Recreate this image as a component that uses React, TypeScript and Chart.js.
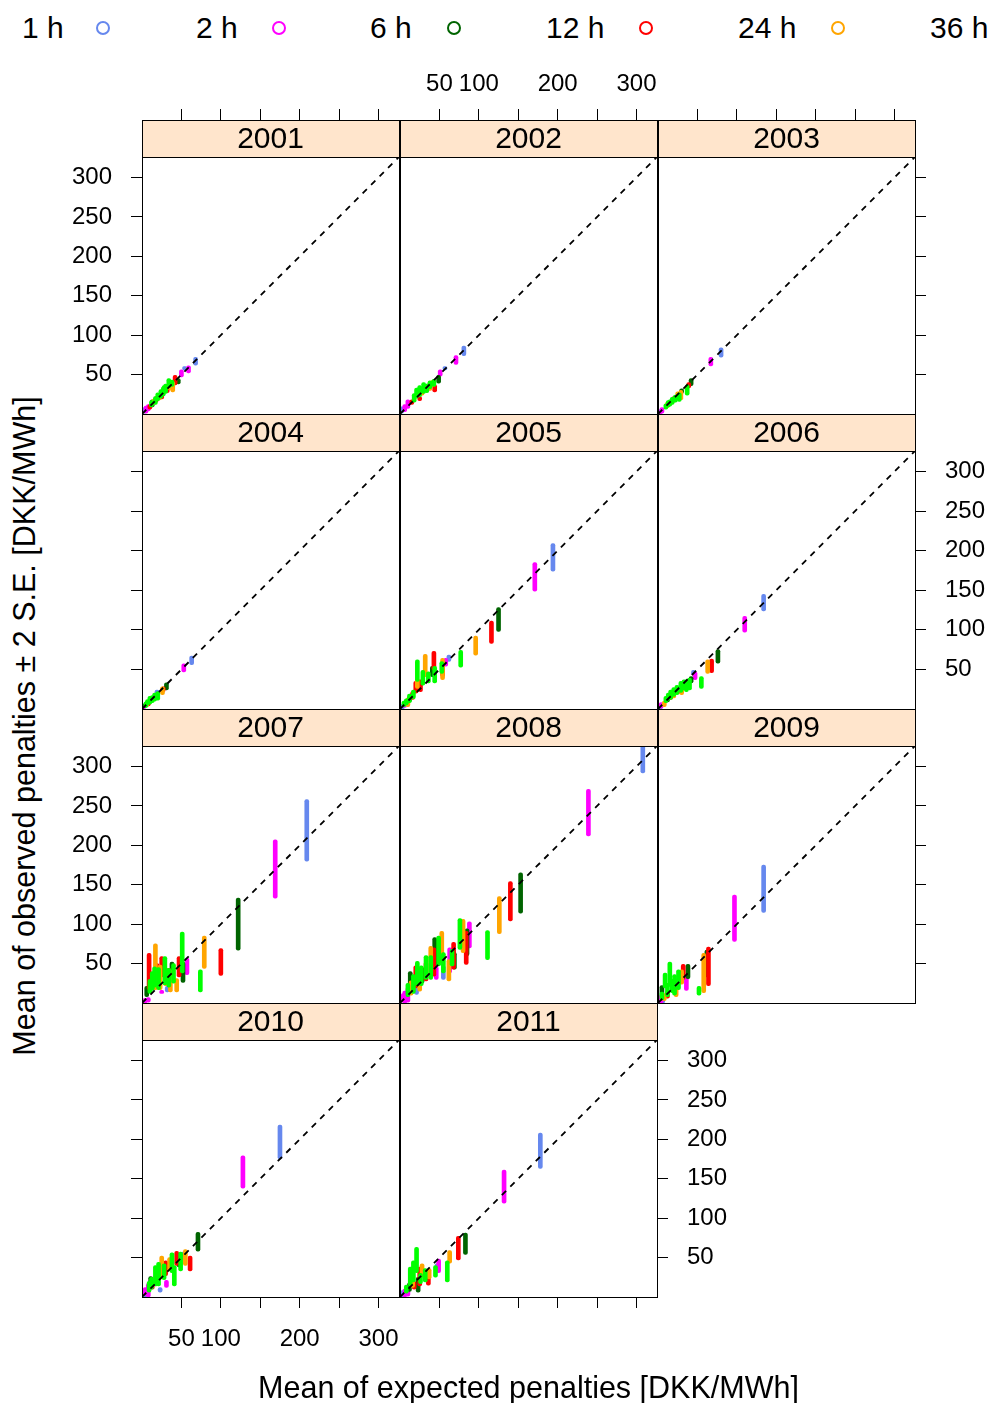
import React, { useEffect, useRef } from 'react';
import { Chart, registerables } from 'chart.js';

Chart.register(...registerables);

type Seg = [number, number, number]; // [expected, lower, upper]

const FONT = '"Liberation Sans", Arial, Helvetica, sans-serif';

const years = ['2001', '2002', '2003', '2004', '2005', '2006', '2007', '2008', '2009', '2010', '2011'];
const horizons = ['1 h', '2 h', '6 h', '12 h', '24 h', '36 h'];
const colors = ['#6688EE', '#FF00FF', '#006400', '#FF0000', '#FFA500', '#00FF00'];
const tickValues = [50, 100, 150, 200, 250, 300];
const xTickLabels = ['50', '100', '', '200', '', '300'];
const yTickLabels = ['50', '100', '150', '200', '250', '300'];
const axisMin = 0;
const axisMax = 326;
const xTitle = 'Mean of expected penalties [DKK/MWh]';
const yTitle = 'Mean of observed penalties \u00B1 2 S.E. [DKK/MWh]';

// one list per panel (2001 ... 2011), each entry [expected, lower, upper]
const h1: Seg[][] = [
  [[68, 62, 72], [54, 56, 60], [3, 1, 8]],
  [[81, 74, 86], [57, 56, 60], [2, 1, 9]],
  [[80, 72, 84], [4, 1, 6]],
  [[63, 56, 67], [19, 18, 24]],
  [[194, 174, 209], [62, 60, 68], [3, 0, 6]],
  [[134, 124, 145], [45, 43, 49], [3, 0, 5]],
  [[209, 180, 258], [32, 14, 21]],
  [[308, 292, 340], [55, 30, 47], [21, 11, 22], [6, 0, 8]],
  [[134, 115, 175], [6, 0, 6]],
  [[175, 175, 218], [52, 48, 57], [23, 6, 12], [5, 0, 8]],
  [[178, 163, 208], [47, 38, 42], [3, 0, 8]],
];
const h2: Seg[][] = [
  [[59, 52, 61], [50, 47, 56], [5, 1, 10], [8, 4, 12], [30, 27, 33]],
  [[71, 63, 74], [51, 48, 56], [10, 7, 18], [6, 3, 12]],
  [[67, 61, 72], [5, 1, 8], [2, 0, 4]],
  [[53, 47, 57], [2, 0, 5]],
  [[171, 149, 185], [58, 54, 64], [6, 2, 9]],
  [[110, 97, 117], [47, 37, 47], [4, 1, 8]],
  [[169, 133, 207], [57, 36, 57], [25, 12, 16], [4, 0, 6], [8, 1, 7]],
  [[239, 212, 271], [88, 70, 103], [63, 38, 70], [46, 30, 46], [10, 1, 20], [6, 0, 15], [4, 1, 12]],
  [[97, 78, 137], [36, 16, 33], [4, 0, 10], [2, 0, 8]],
  [[128, 138, 179], [31, 12, 21], [4, 2, 12], [8, 0, 17]],
  [[132, 119, 161], [49, 31, 48], [6, 0, 10], [10, 1, 8]],
];
const h6: Seg[][] = [
  [[46, 38, 45], [13, 9, 18], [25, 20, 27], [36, 32, 40]],
  [[49, 39, 49], [35, 30, 38]],
  [[42, 36, 45], [30, 26, 32]],
  [[31, 24, 33], [4, 2, 7]],
  [[125, 98, 128], [41, 41, 54], [12, 9, 16]],
  [[76, 58, 75], [42, 33, 41], [12, 9, 15]],
  [[122, 67, 133], [52, 26, 52], [38, 32, 52], [6, 8, 21]],
  [[153, 114, 165], [85, 60, 94], [69, 43, 64], [44, 47, 83], [13, 11, 40], [28, 25, 45]],
  [[62, 33, 67], [38, 31, 49], [5, 8, 22]],
  [[71, 58, 82], [47, 38, 53], [11, 12, 26]],
  [[83, 54, 81], [23, 6, 25], [12, 7, 18]],
];
const h12: Seg[][] = [
  [[42, 37, 49], [25, 19, 29], [32, 27, 35], [18, 15, 22], [10, 6, 12]],
  [[44, 28, 37], [25, 17, 22], [33, 30, 36], [15, 12, 18]],
  [[39, 33, 40], [20, 15, 22]],
  [[27, 22, 28], [8, 4, 10]],
  [[116, 83, 111], [54, 41, 58], [43, 49, 73], [26, 22, 37], [20, 20, 35], [16, 12, 22]],
  [[68, 46, 63], [25, 19, 27], [16, 12, 19]],
  [[100, 35, 69], [47, 33, 59], [34, 27, 44], [25, 33, 59], [19, 23, 50], [9, 17, 63]],
  [[140, 104, 154], [84, 49, 91], [68, 43, 77], [43, 34, 70], [20, 19, 47], [33, 28, 52]],
  [[64, 22, 71], [32, 30, 49], [20, 14, 28], [12, 6, 15]],
  [[61, 33, 52], [44, 40, 58], [30, 27, 46], [13, 10, 20]],
  [[74, 47, 77], [36, 15, 27], [25, 14, 38], [18, 10, 20]],
];
const h24: Seg[][] = [
  [[39, 28, 41], [35, 31, 40], [22, 18, 25], [15, 12, 19]],
  [[42, 35, 43], [38, 30, 40], [28, 24, 30]],
  [[29, 18, 30], [25, 20, 28], [12, 8, 15]],
  [[26, 18, 28], [6, 3, 9]],
  [[96, 68, 92], [54, 37, 64], [32, 41, 69], [22, 26, 38], [10, 3, 14]],
  [[63, 45, 62], [30, 18, 28], [20, 14, 22], [8, 3, 10]],
  [[79, 44, 85], [44, 14, 31], [36, 14, 42], [23, 17, 48], [17, 17, 75], [30, 22, 40]],
  [[126, 88, 135], [80, 64, 106], [62, 28, 55], [53, 51, 91], [39, 34, 72], [25, 15, 35], [14, 10, 28]],
  [[58, 13, 63], [30, 24, 42], [23, 8, 30], [8, 3, 12]],
  [[55, 40, 60], [35, 33, 50], [25, 23, 52], [18, 14, 30]],
  [[63, 43, 59], [37, 23, 36], [28, 25, 42], [16, 12, 28]],
];
const h36: Seg[][] = [
  [[34, 33, 45], [30, 26, 38], [27, 23, 34], [24, 20, 31], [20, 17, 27], [17, 12, 22], [12, 9, 17], [38, 35, 43], [28, 28, 36]],
  [[21, 20, 33], [25, 22, 36], [30, 26, 40], [34, 27, 38], [38, 32, 42], [18, 15, 26], [43, 35, 44], [28, 30, 34]],
  [[37, 24, 37], [27, 16, 27], [22, 15, 24], [18, 12, 21], [15, 10, 18], [13, 9, 17], [10, 6, 13]],
  [[20, 11, 22], [16, 10, 20], [13, 8, 17], [10, 6, 16], [7, 5, 12], [17, 13, 19], [5, 2, 9]],
  [[77, 53, 74], [53, 45, 60], [44, 33, 54], [22, 35, 62], [29, 30, 49], [36, 33, 47], [17, 13, 24], [12, 8, 19], [8, 5, 13], [5, 3, 10]],
  [[55, 26, 41], [40, 24, 39], [36, 22, 37], [33, 24, 37], [29, 21, 35], [24, 18, 30], [20, 16, 27], [16, 12, 24], [13, 11, 20], [10, 8, 16]],
  [[74, 14, 42], [51, 38, 90], [40, 25, 50], [29, 23, 59], [21, 17, 45], [13, 16, 40], [10, 12, 30], [16, 20, 46], [34, 20, 44]],
  [[111, 55, 92], [76, 68, 107], [66, 47, 68], [55, 38, 64], [49, 47, 85], [39, 30, 60], [33, 30, 60], [27, 22, 47], [22, 22, 53], [17, 12, 36], [10, 8, 25]],
  [[52, 10, 21], [15, 21, 52], [9, 19, 38], [21, 10, 36], [26, 17, 42], [18, 13, 30], [12, 8, 25], [5, 4, 14]],
  [[49, 33, 57], [41, 14, 40], [38, 31, 56], [21, 14, 44], [17, 14, 40], [28, 22, 42], [12, 10, 25], [9, 6, 20]],
  [[60, 19, 46], [45, 25, 40], [21, 31, 63], [17, 19, 46], [32, 19, 36], [13, 14, 38], [26, 17, 30], [8, 5, 15]],
];
const seriesData = [h1, h2, h6, h12, h24, h36];

// ---- layout constants (pixels) ----
const PANEL_LEFT0 = 142;
const PANEL_STEP_X = 258;
const PANEL_W = 257;
const ROW_TOP0 = 120;
const ROW_STEP = 294.33;
const STRIP_H = 37;
const ML = 80;
const MR = 90;
const MT = 75;
const MB = 75;
const TICK_LEN = 11;
const TICK_FONT = 24;
const BIG_FONT = 30;
const TITLE_FONT = 30.5;

function axisOpts(position: string, size: number, showTicks: boolean, showLabels: boolean, labels: string[], pad: number, weight = 0) {
  return {
    type: 'linear',
    position,
    min: axisMin,
    max: axisMax,
    offset: false,
    weight,
    display: true,
    border: { display: false },
    grid: {
      display: showTicks,
      drawOnChartArea: false,
      drawTicks: true,
      tickLength: TICK_LEN,
      color: '#000',
      lineWidth: 1,
      offset: false,
    },
    ticks: {
      display: showLabels,
      autoSkip: false,
      maxRotation: 0,
      minRotation: 0,
      padding: pad,
      color: '#000',
      font: { size: TICK_FONT, family: FONT },
      callback: (_v: any, i: number) => labels[i],
    },
    afterBuildTicks: (s: any) => {
      s.ticks = tickValues.map((v) => ({ value: v }));
    },
    afterFit: (s: any) => {
      if (position === 'left' || position === 'right') s.width = size;
      else s.height = size;
    },
  };
}

function Panel({ index }: { index: number }) {
  const ref = useRef<HTMLCanvasElement>(null);
  const r = Math.floor(index / 3);
  const c = index % 3;
  const left = PANEL_LEFT0 + c * PANEL_STEP_X;
  const stripTop = Math.round(ROW_TOP0 + r * ROW_STEP);
  const panelTop = stripTop + STRIP_H;
  const panelBottom = Math.round(ROW_TOP0 + (r + 1) * ROW_STEP);
  const panelH = panelBottom - panelTop;
  const cw = ML + PANEL_W + MR;
  const ch = MT + STRIP_H + panelH + MB;

  useEffect(() => {
    const canvas = ref.current!;
    const showLeft = c === 0;
    const labelLeft = showLeft && r % 2 === 0;
    const showRight = c === 2 || index === years.length - 1;
    const labelRight = showRight && r % 2 === 1;
    const showTop = r === 0;
    const labelTop = showTop && c === 1;
    const showBottom = r === 3;
    const labelBottom = showBottom && c === 0;

    const datasets: any[] = seriesData.map((s, k) => ({
      type: 'bar',
      label: horizons[k],
      data: s[index].map(([x, lo, hi]) => ({ x, y: [lo, hi] })),
      backgroundColor: colors[k],
      borderWidth: 0,
      borderSkipped: false,
      borderRadius: 2,
      barThickness: 4,
      grouped: false,
      xAxisID: 'x',
      yAxisID: 'y',
      order: 6 - k,
    }));
    datasets.push({
      type: 'line',
      label: 'identity',
      data: [
        { x: axisMin, y: axisMin },
        { x: axisMax, y: axisMax },
      ],
      borderColor: '#000',
      borderWidth: 1.8,
      borderDash: [6, 6],
      pointRadius: 0,
      fill: false,
      xAxisID: 'x',
      yAxisID: 'y',
      order: 0,
    });

    const decor = {
      id: 'decor',
      afterDraw(chart: any) {
        const { ctx, chartArea: a } = chart;
        const s = chart.scales.xStrip;
        ctx.save();
        ctx.fillStyle = '#FFE5CC';
        ctx.fillRect(a.left, s.top, a.right - a.left, s.bottom - s.top);
        ctx.strokeStyle = '#000';
        ctx.lineWidth = 1;
        ctx.strokeRect(a.left + 0.5, s.top + 0.5, a.right - a.left, s.bottom - s.top);
        ctx.fillStyle = '#000';
        ctx.font = `${BIG_FONT}px ${FONT}`;
        ctx.textAlign = 'center';
        ctx.textBaseline = 'middle';
        ctx.fillText(years[index], (a.left + a.right) / 2, (s.top + s.bottom) / 2 + 1);
        ctx.strokeRect(a.left + 0.5, a.top + 0.5, a.right - a.left, a.bottom - a.top);
        ctx.restore();
      },
    };

    const chart = new Chart(canvas, {
      type: 'bar',
      data: { datasets },
      options: {
        animation: false,
        responsive: false,
        maintainAspectRatio: false,
        devicePixelRatio: 1,
        layout: { padding: 0 },
        events: [],
        plugins: { legend: { display: false }, tooltip: { enabled: false } },
        scales: {
          x: axisOpts('bottom', MB, showBottom, labelBottom, xTickLabels, 17),
          xStrip: axisOpts('top', STRIP_H, false, false, xTickLabels, 0, 0),
          xTop: axisOpts('top', MT, showTop, labelTop, xTickLabels, 10, 1),
          y: axisOpts('left', ML, showLeft, labelLeft, yTickLabels, 19),
          yRight: axisOpts('right', MR, showRight, labelRight, yTickLabels, 19),
        } as any,
      },
      plugins: [decor],
    } as any);
    return () => chart.destroy();
  }, [index]);

  return (
    <canvas
      ref={ref}
      width={cw}
      height={ch}
      style={{ position: 'absolute', left: left - ML, top: stripTop - MT, width: cw, height: ch }}
    />
  );
}

const legendTextX = [22, 196, 370, 546, 738, 930];
const legendDotX = [103, 279, 454, 646, 838, 1030];

export default function App() {
  return (
    <div
      style={{
        position: 'absolute',
        left: 0,
        top: 0,
        width: 990,
        height: 1403,
        overflow: 'hidden',
        background: '#fff',
        fontFamily: FONT,
        color: '#000',
      }}
    >
      {horizons.map((h, k) => (
        <React.Fragment key={h}>
          <div
            style={{
              position: 'absolute',
              left: legendTextX[k],
              top: 28 - BIG_FONT / 2,
              fontSize: BIG_FONT,
              lineHeight: `${BIG_FONT}px`,
              whiteSpace: 'nowrap',
            }}
          >
            {h}
          </div>
          <div
            style={{
              position: 'absolute',
              left: legendDotX[k] - 7,
              top: 28 - 7,
              width: 14,
              height: 14,
              boxSizing: 'border-box',
              border: `2px solid ${colors[k]}`,
              borderRadius: '50%',
            }}
          />
        </React.Fragment>
      ))}
      {years.map((y, i) => (
        <Panel key={y} index={i} />
      ))}
      <div
        style={{
          position: 'absolute',
          left: 142,
          width: 773,
          top: 1372,
          height: 30,
          fontSize: TITLE_FONT,
          lineHeight: '30px',
          textAlign: 'center',
          whiteSpace: 'nowrap',
        }}
      >
        {xTitle}
      </div>
      <div
        style={{
          position: 'absolute',
          left: 24,
          top: 726,
          fontSize: TITLE_FONT,
          lineHeight: '30px',
          whiteSpace: 'nowrap',
          transform: 'translate(-50%, -50%) rotate(-90deg)',
        }}
      >
        {yTitle}
      </div>
    </div>
  );
}
